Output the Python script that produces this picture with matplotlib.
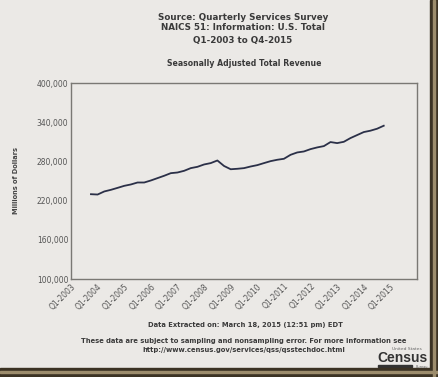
import numpy as np
import matplotlib
matplotlib.use("Agg")
import matplotlib.pyplot as plt
from matplotlib.patches import Rectangle

# quarterly revenue, millions of dollars (Q4-2003 .. Q4-2014)
start_quarter = 3
revenue = [229.8, 229.3, 234.0, 236.5, 239.5, 242.6, 244.7, 247.7, 247.7,
           250.8, 254.4, 258.0, 262.0, 263.0, 265.6, 269.7, 271.7, 275.3,
           277.4, 281.4, 273.0, 268.0, 268.7, 269.7, 272.2, 274.3, 277.4,
           280.4, 282.5, 284.0, 290.1, 293.7, 295.2, 298.8, 301.4, 303.4,
           309.6, 308.0, 310.0, 315.7, 320.3, 324.9, 327.0, 330.0, 334.6]
years = list(range(2003, 2016))
tick_labels = ["Q1-%d" % y for y in years]
yticks = [100000, 160000, 220000, 280000, 340000, 400000]

bg = "#ebe9e6"
fig = plt.figure(figsize=(4.39, 3.77), dpi=100, facecolor=bg)
ax = fig.add_axes([71 / 439, 1 - 279 / 377, 346 / 439, 196 / 377])
ax.set_facecolor(bg)

q = np.arange(start_quarter, start_quarter + len(revenue))
ax.plot(q, np.array(revenue) * 1000, color="#2b3048", lw=1.3)

ax.set_xlim(0, 52)
ax.set_ylim(100000, 400000)
ax.set_yticks(yticks)
ax.set_yticklabels(["{:,}".format(v) for v in yticks], fontsize=5.5, color="#555555")
ax.set_xticks([4 * i for i in range(len(years))])
ax.set_xticklabels(tick_labels, rotation=45, ha="right", va="top",
                   rotation_mode="anchor", fontsize=5.5, color="#555555")
ax.tick_params(length=0, pad=2)
for s in ax.spines.values():
    s.set_color("#7a7874")
    s.set_linewidth(1.0)
ax.set_ylabel("Millions of Dollars", fontsize=4.8, fontweight="bold",
              color="#444444", labelpad=13)

tc = "#3a3a3a"
fig.text(243 / 439, 1 - 17 / 377, "Source: Quarterly Services Survey", ha="center",
         va="center", fontsize=6.3, fontweight="bold", color=tc)
fig.text(243 / 439, 1 - 28 / 377, "NAICS 51: Information: U.S. Total", ha="center",
         va="center", fontsize=6.3, fontweight="bold", color=tc)
fig.text(243 / 439, 1 - 40 / 377, "Q1-2003 to Q4-2015", ha="center",
         va="center", fontsize=6.3, fontweight="bold", color=tc)
fig.text(244 / 439, 1 - 63 / 377, "Seasonally Adjusted Total Revenue", ha="center",
         va="center", fontsize=5.6, fontweight="bold", color=tc)
fig.text(245 / 439, 1 - 325 / 377, "Data Extracted on: March 18, 2015 (12:51 pm) EDT",
         ha="center", va="center", fontsize=4.9, fontweight="bold", color=tc)
fig.text(244 / 439, 1 - 341 / 377,
         "These data are subject to sampling and nonsampling error. For more information see",
         ha="center", va="center", fontsize=4.9, fontweight="bold", color=tc)
fig.text(244 / 439, 1 - 350 / 377, "http://www.census.gov/services/qss/qsstechdoc.html",
         ha="center", va="center", fontsize=4.9, fontweight="bold", color=tc)

# census logo
fig.text(407 / 439, 1 - 349 / 377, "United States", ha="center", va="center",
         fontsize=3.2, color="#666666")
fig.text(403 / 439, 1 - 358 / 377, "Census", ha="center", va="center",
         fontsize=10, fontweight="bold", color="#333333", family="Liberation Sans")
fig.patches.append(Rectangle((378 / 439, 1 - 367 / 377), 34 / 439, 2 / 377,
                             transform=fig.transFigure, color="#333333"))
fig.text(422 / 439, 1 - 366.5 / 377, "Bureau", ha="center", va="center",
         fontsize=2.5, color="#666666")

# dark frame on right and bottom
fig.patches.append(Rectangle((430 / 439, 0), 9 / 439, 1, transform=fig.transFigure,
                             color="#3b3223"))
fig.patches.append(Rectangle((0, 0), 1, 9 / 377, transform=fig.transFigure,
                             color="#3b3223"))
fig.patches.append(Rectangle((433 / 439, 0), 2 / 439, 1, transform=fig.transFigure,
                             color="#9c8c6c"))
fig.patches.append(Rectangle((0, 4 / 377), 1, 2 / 377, transform=fig.transFigure,
                             color="#9c8c6c"))

fig.savefig("out.png", dpi=100, facecolor=bg)
